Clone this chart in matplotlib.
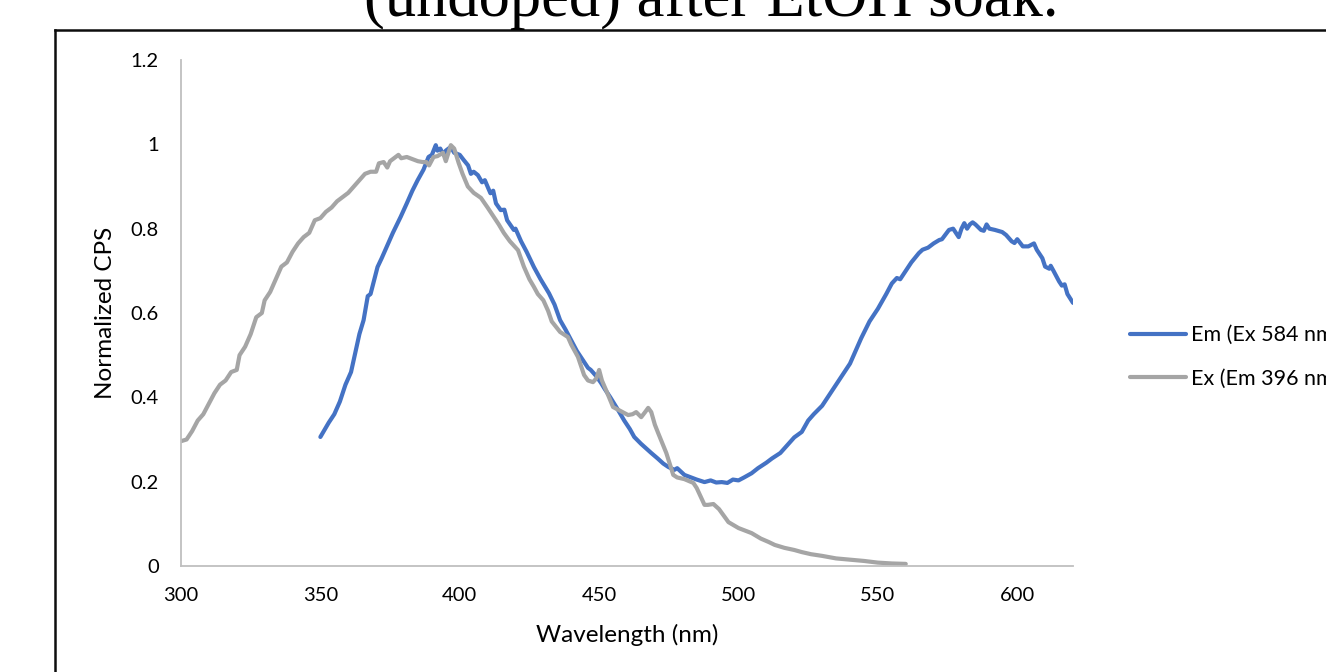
import matplotlib
matplotlib.use("Agg")
import matplotlib.pyplot as plt
from matplotlib.lines import Line2D

plt.rcParams['font.family'] = ['Lato', 'DejaVu Sans']

# Em (Ex 584 nm) - blue
em_wl = [350, 353, 355, 357, 359, 361, 363, 364, 365.5, 367, 368, 370.5, 372, 374, 376,
         378.8, 381, 383, 384.9, 387, 388.8, 390, 391.4, 392, 393, 394.2, 395, 396.8, 398,
         400, 401.4, 403, 404, 405, 406.5, 408, 409, 411, 412, 413, 414.7, 416, 417, 419.4,
         420, 422, 424, 426.6, 429, 432, 434, 436, 438, 440, 442, 444, 446, 447, 449, 450.7,
         452, 454, 456.8, 459, 461, 462.6, 465, 468.7, 471, 473, 474.8, 477, 478, 480.6, 483,
         485, 487.8, 490, 492, 494, 496, 498, 500, 502, 504.7, 507, 510, 512, 515, 518, 520,
         522.7, 525, 527, 530, 533, 536, 540, 544, 547, 550, 553, 555, 556.8, 558, 560, 562,
         564.7, 566, 568, 570, 572, 573, 575.5, 577, 578, 579, 580, 581, 582, 583, 584, 585,
         587, 588, 589, 590, 592, 594.6, 596, 598, 599, 600, 602, 604, 606, 607, 609, 610,
         611.5, 612, 613, 615, 616, 617, 618, 620]
em_cps = [0.306, 0.34, 0.36, 0.39, 0.43, 0.46, 0.52, 0.55, 0.583, 0.64, 0.645, 0.709, 0.73, 0.76, 0.79,
          0.828, 0.86, 0.89, 0.915, 0.94, 0.97, 0.975, 0.998, 0.985, 0.99, 0.975, 0.985, 0.994, 0.98,
          0.975, 0.963, 0.95, 0.93, 0.935, 0.927, 0.91, 0.915, 0.884, 0.89, 0.86, 0.844, 0.845, 0.82, 0.797,
          0.80, 0.77, 0.745, 0.709, 0.68, 0.647, 0.62, 0.583, 0.56, 0.535, 0.51, 0.49, 0.47, 0.465, 0.45, 0.434,
          0.42, 0.40, 0.37, 0.345, 0.325, 0.306, 0.29, 0.268, 0.255, 0.243, 0.235, 0.228, 0.232, 0.216, 0.21,
          0.205, 0.199, 0.203, 0.198, 0.199, 0.197, 0.205, 0.203, 0.21, 0.22, 0.232, 0.245, 0.255, 0.268, 0.29, 0.305,
          0.318, 0.345, 0.36, 0.38, 0.41, 0.44, 0.48, 0.54, 0.58, 0.61, 0.645, 0.67, 0.683, 0.68, 0.70, 0.72,
          0.742, 0.75, 0.755, 0.765, 0.773, 0.775, 0.797, 0.80, 0.79, 0.78, 0.80, 0.813, 0.80, 0.81, 0.815, 0.81,
          0.797, 0.795, 0.81, 0.80, 0.797, 0.792, 0.785, 0.77, 0.766, 0.775, 0.758, 0.758, 0.765, 0.75, 0.73, 0.71,
          0.705, 0.712, 0.70, 0.675, 0.665, 0.668, 0.645, 0.624]

# Ex (Em 396 nm) - grey
ex_wl = [300, 302, 304, 306, 308, 310, 312, 314, 316, 318, 320, 321, 323, 325, 327, 329, 330, 332,
         334, 336, 338, 340, 342, 344, 346, 348, 350, 352, 354, 356, 358, 360, 362, 364, 366, 368,
         370, 371, 372.7, 374, 375, 376, 378, 379, 381, 383, 385, 386.7, 388, 389, 390.6, 392, 394,
         395, 396.8, 398, 399.6, 401, 402.9, 405, 407.6, 410, 412.2, 414, 415.8, 418, 420.9, 423, 425,
         426.6, 428, 430, 431.7, 433, 436, 438.8, 440, 442.4, 444.6, 446, 447.8, 449, 450, 451, 452.5,
         455, 457, 460.4, 462, 463.3, 465.1, 466.5, 467.6, 468.7, 470, 471.2, 474.1, 476.6, 478, 480.6,
         483.8, 485, 487.8, 489, 491, 493, 496.4, 500, 504.7, 508, 510.8, 513, 516.5, 520, 522.7, 526,
         530, 535, 540, 545, 550, 555, 560]
ex_cps = [0.296, 0.30, 0.32, 0.345, 0.36, 0.385, 0.41, 0.43, 0.44, 0.46, 0.465, 0.50, 0.52, 0.55, 0.59, 0.60, 0.63, 0.65,
          0.68, 0.71, 0.72, 0.745, 0.765, 0.78, 0.79, 0.82, 0.825, 0.84, 0.85, 0.865, 0.875, 0.885, 0.90, 0.915, 0.93, 0.935,
          0.935, 0.955, 0.958, 0.945, 0.96, 0.965, 0.975, 0.967, 0.97, 0.965, 0.96, 0.958, 0.958, 0.95, 0.97, 0.972, 0.98,
          0.96, 0.998, 0.99, 0.956, 0.93, 0.90, 0.885, 0.873, 0.85, 0.828, 0.81, 0.79, 0.77, 0.749, 0.71, 0.68,
          0.662, 0.645, 0.63, 0.605, 0.58, 0.555, 0.543, 0.525, 0.496, 0.453, 0.44, 0.436, 0.445, 0.465, 0.44, 0.417,
          0.377, 0.37, 0.358, 0.36, 0.365, 0.353, 0.365, 0.375, 0.365, 0.335, 0.315, 0.268, 0.216, 0.21, 0.206,
          0.197, 0.185, 0.145, 0.145, 0.147, 0.135, 0.104, 0.09, 0.078, 0.065, 0.057, 0.05, 0.043, 0.038, 0.033, 0.028,
          0.024, 0.018, 0.015, 0.012, 0.008, 0.006, 0.005]

x_ticks = [300, 350, 400, 450, 500, 550, 600]
y_ticks = [0, 0.2, 0.4, 0.6, 0.8, 1.0, 1.2]
y_tick_labels = ['0', '0.2', '0.4', '0.6', '0.8', '1', '1.2']

W, H = 1326, 672
fig = plt.figure(figsize=(W / 100, H / 100), dpi=100)
ax = fig.add_axes([181 / W, 1 - 566 / H, (1073 - 181) / W, (566 - 60) / H])

ax.plot(em_wl, em_cps, color='#4472C4', lw=3, solid_capstyle='round', label='Em (Ex 584 nm)')
ax.plot(ex_wl, ex_cps, color='#A5A5A5', lw=3, solid_capstyle='round', label='Ex (Em 396 nm)')

ax.set_xlim(300, 620)
ax.set_ylim(0, 1.2)
ax.set_xticks(x_ticks)
ax.set_yticks(y_ticks)
ax.set_yticklabels(y_tick_labels)
ax.tick_params(length=0, labelsize=14.5, colors='#000000')
ax.tick_params(axis='y', pad=16)
ax.tick_params(axis='x', pad=15)
for s in ['top', 'right']:
    ax.spines[s].set_visible(False)
for s in ['left', 'bottom']:
    ax.spines[s].set_color('#BFBFBF')
    ax.spines[s].set_linewidth(1.3)

ax.set_xlabel('Wavelength (nm)', fontsize=17.5)
ax.set_ylabel('Normalized CPS', fontsize=17.5)
ax.xaxis.set_label_coords(0.5, (566 - 624) / 506)
ax.yaxis.set_label_coords((116 - 181) / 892, 0.5)

ax.legend(loc='center left', bbox_to_anchor=(1130 / W, 1 - 357 / H), bbox_transform=fig.transFigure,
          frameon=False, fontsize=15.5, handlelength=2.6, handletextpad=0.25, labelspacing=1.1,
          borderpad=0, borderaxespad=0)

# chart title (cut off at the top in the original)
fig.text(711 / W, 1 - 16 / H, '(undoped) after EtOH soak.', family='Liberation Serif',
         fontsize=45, ha='center', va='baseline')

# outer chart border
fig.add_artist(Line2D([55 / W, 55 / W], [0, 1 - 29.5 / H], transform=fig.transFigure, color='#0D0D0D', lw=1.8))
fig.add_artist(Line2D([55 / W, 1], [1 - 29.5 / H, 1 - 29.5 / H], transform=fig.transFigure, color='#0D0D0D', lw=1.8))

fig.savefig('out.png', dpi=100)
